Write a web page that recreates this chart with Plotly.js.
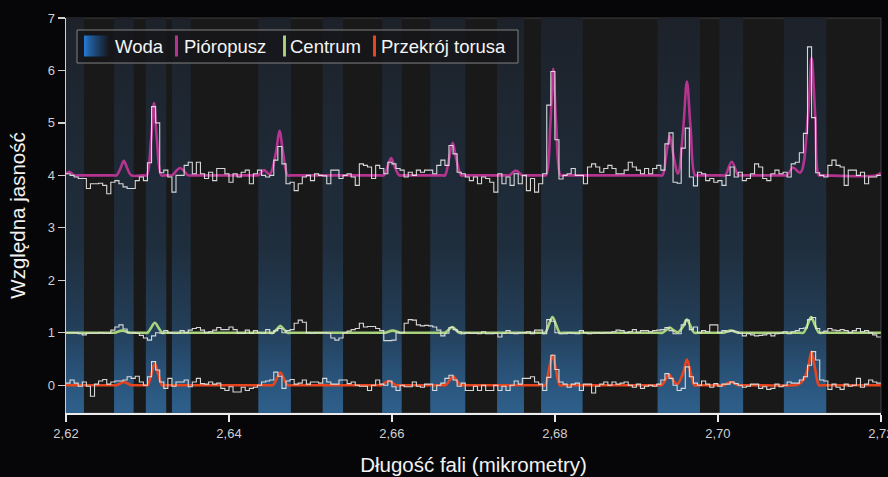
<!DOCTYPE html>
<html>
<head>
<meta charset="utf-8">
<script src="https://cdn.plot.ly/plotly-3.0.1.min.js"></script>
<style>
html,body{margin:0;padding:0;background:#060608;}
#chart{width:888px;height:477px;}
</style>
</head>
<body>
<div id="chart"></div>
<script>
// Wavelength grid (bin edges, micrometres)
const waveGrid = [
2.6200,2.6205,2.6210,2.6215,2.6220,2.6225,2.6230,2.6235,2.6240,2.6245,
2.6250,2.6255,2.6260,2.6265,2.6270,2.6275,2.6280,2.6285,2.6290,2.6295,
2.6300,2.6305,2.6310,2.6315,2.6320,2.6325,2.6330,2.6335,2.6340,2.6345,
2.6350,2.6355,2.6360,2.6365,2.6370,2.6375,2.6380,2.6385,2.6390,2.6395,
2.6400,2.6405,2.6410,2.6415,2.6420,2.6425,2.6430,2.6435,2.6440,2.6445,
2.6450,2.6455,2.6460,2.6465,2.6470,2.6475,2.6480,2.6485,2.6490,2.6495,
2.6500,2.6505,2.6510,2.6515,2.6520,2.6525,2.6530,2.6535,2.6540,2.6545,
2.6550,2.6555,2.6560,2.6565,2.6570,2.6575,2.6580,2.6585,2.6590,2.6595,
2.6600,2.6605,2.6610,2.6615,2.6620,2.6625,2.6630,2.6635,2.6640,2.6645,
2.6650,2.6655,2.6660,2.6665,2.6670,2.6675,2.6680,2.6685,2.6690,2.6695,
2.6700,2.6705,2.6710,2.6715,2.6720,2.6725,2.6730,2.6735,2.6740,2.6745,
2.6750,2.6755,2.6760,2.6765,2.6770,2.6775,2.6780,2.6785,2.6790,2.6795,
2.6800,2.6805,2.6810,2.6815,2.6820,2.6825,2.6830,2.6835,2.6840,2.6845,
2.6850,2.6855,2.6860,2.6865,2.6870,2.6875,2.6880,2.6885,2.6890,2.6895,
2.6900,2.6905,2.6910,2.6915,2.6920,2.6925,2.6930,2.6935,2.6940,2.6945,
2.6950,2.6955,2.6960,2.6965,2.6970,2.6975,2.6980,2.6985,2.6990,2.6995,
2.7000,2.7005,2.7010,2.7015,2.7020,2.7025,2.7030,2.7035,2.7040,2.7045,
2.7050,2.7055,2.7060,2.7065,2.7070,2.7075,2.7080,2.7085,2.7090,2.7095,
2.7100,2.7105,2.7110,2.7115,2.7120,2.7125,2.7130,2.7135,2.7140,2.7145,
2.7150,2.7155,2.7160,2.7165,2.7170,2.7175,2.7180,2.7185,2.7190,2.7195,
2.7200];

// Observed spectra (step data)
const plumeData = [
4.03,4.00,3.97,3.94,3.94,3.75,3.84,3.84,3.85,3.81,
3.65,3.87,3.90,3.84,3.78,3.75,3.75,3.90,3.97,3.90,
4.24,5.31,5.00,4.05,4.10,3.97,3.68,4.00,4.00,4.19,
4.25,4.03,4.25,4.03,3.94,4.06,3.90,4.13,4.13,4.03,
3.87,4.03,3.97,4.06,4.10,3.84,4.03,4.10,4.00,3.97,
4.00,4.29,4.55,4.22,3.84,3.87,3.71,3.84,3.97,4.00,
3.90,4.03,4.00,3.99,3.84,4.10,4.10,3.94,4.00,4.03,
3.97,3.81,4.22,4.19,4.16,3.94,4.19,4.13,4.03,4.25,
4.22,4.13,4.10,3.97,4.06,4.00,4.10,4.06,4.10,4.10,
4.03,4.19,4.29,4.19,4.57,4.41,4.06,4.03,3.97,3.90,
3.97,3.84,3.97,3.94,3.87,3.68,4.03,3.84,3.97,3.81,
4.03,3.84,4.00,3.71,3.94,3.68,3.84,4.03,5.34,5.98,
4.68,3.93,4.00,4.03,4.13,4.00,4.00,3.84,4.16,4.22,
4.16,4.06,4.13,4.19,4.13,4.03,4.03,4.10,4.25,4.16,
4.10,4.03,4.13,4.03,4.13,4.19,4.10,4.60,4.81,3.87,
3.85,4.52,4.90,3.97,3.80,4.06,4.03,3.90,3.94,3.87,
3.90,3.81,4.00,4.16,3.97,4.06,3.90,3.94,4.03,4.22,
4.16,3.94,3.90,4.03,4.10,4.03,4.06,3.97,4.22,4.25,
4.43,4.80,6.45,5.10,4.05,4.00,3.97,4.19,4.29,4.19,
4.16,3.81,4.10,4.10,4.00,4.06,3.84,3.97,3.97,4.00,
4.00];

const centreData = [
1.00,1.00,1.00,0.98,0.96,0.99,0.99,0.99,1.00,0.99,
0.99,1.05,1.11,1.15,1.07,1.00,1.00,0.99,0.95,0.90,
0.86,0.94,1.00,0.99,1.04,1.00,0.99,0.99,1.04,1.00,
1.05,1.08,1.10,1.05,1.00,1.02,1.05,1.10,1.06,1.06,
1.11,1.06,0.99,0.99,1.05,0.99,1.04,1.00,0.99,1.06,
0.99,1.04,1.08,1.00,1.04,1.06,1.18,1.24,1.20,1.00,
0.99,1.00,1.00,1.00,0.99,0.90,0.86,0.90,1.00,1.03,
1.06,1.08,1.18,1.11,1.12,1.12,1.08,1.04,0.85,0.85,
0.86,1.00,1.00,1.18,1.25,1.24,1.15,1.13,1.14,1.13,
1.11,1.05,0.94,0.99,1.10,1.06,1.02,0.98,1.00,0.99,
0.99,0.98,1.02,0.98,0.98,0.99,0.92,0.99,1.04,0.99,
0.98,1.00,1.00,1.02,0.98,1.05,1.05,0.98,1.25,1.22,
1.00,0.98,0.98,1.00,0.99,0.98,1.04,1.00,0.98,0.99,
1.00,0.99,1.00,1.00,1.02,1.05,1.04,1.00,1.02,1.06,
1.01,1.04,1.04,1.02,1.04,1.05,1.06,1.10,1.04,0.98,
0.98,1.15,1.24,1.06,1.11,1.00,1.04,1.02,1.15,1.15,
1.00,1.04,1.02,1.04,1.02,0.99,0.94,0.98,0.96,0.94,
0.95,0.96,0.98,0.94,0.98,0.99,1.02,0.98,1.02,1.04,
1.08,1.09,1.25,1.29,1.08,1.00,1.03,1.08,1.05,1.04,
1.06,1.04,1.00,1.04,1.08,1.02,1.04,1.00,0.96,0.92,
0.92];

const torusData = [
0.04,0.10,0.04,-0.02,0.06,-0.02,-0.21,0.02,0.08,0.11,
0.02,0.06,0.08,0.08,0.10,0.16,0.13,0.17,0.06,0.00,
0.16,0.45,0.29,0.06,-0.06,0.13,-0.02,0.06,0.06,0.10,
-0.03,0.06,0.13,0.03,0.02,0.06,0.02,0.04,-0.06,-0.10,
-0.03,-0.13,-0.13,-0.04,-0.10,-0.06,-0.04,0.00,0.06,0.08,
0.10,0.25,0.17,-0.06,0.08,0.11,0.02,0.04,0.10,0.02,
0.06,0.06,0.04,0.13,0.06,0.02,0.02,0.10,0.10,0.03,
0.06,0.00,-0.02,-0.02,-0.10,0.00,0.10,0.02,0.00,0.08,
-0.03,-0.10,0.00,-0.03,-0.03,0.06,-0.02,-0.04,0.02,0.02,
-0.10,0.00,0.04,0.13,0.19,0.10,-0.02,0.04,-0.10,-0.10,
-0.02,-0.10,0.00,-0.10,-0.10,0.00,-0.10,-0.02,-0.10,0.00,
0.08,0.02,0.13,0.13,0.16,0.06,0.02,-0.10,0.15,0.57,
0.30,0.06,0.02,-0.04,0.02,0.04,-0.10,0.02,0.02,-0.15,
-0.02,0.02,0.06,0.00,0.06,0.02,0.04,0.06,0.00,-0.04,
0.02,-0.06,-0.02,0.00,-0.02,0.02,0.10,0.22,0.13,0.00,
-0.10,-0.06,0.35,0.16,0.04,0.00,0.08,0.02,-0.04,0.03,
-0.02,0.02,0.02,0.06,0.03,0.00,-0.04,-0.02,0.02,0.02,
-0.06,-0.03,-0.08,-0.06,0.02,-0.03,0.00,0.06,0.04,0.04,
0.10,0.16,0.38,0.64,0.48,0.10,0.08,-0.08,0.02,-0.04,
-0.08,0.02,-0.02,0.00,0.13,-0.04,0.02,0.10,0.06,0.04,
0.04];

// Model curves
const plumeModelX = [2.6200,2.6204,2.6210,2.6214,
  2.6258,2.6262,2.6267,2.6271,2.6275,2.6280,
  2.6295,2.6299,2.63045,2.6308,2.63115,2.6317,2.6321,
  2.6326,2.6330,2.6340,2.6350,2.6354,
  2.6432,2.6436,2.6443,2.6450,2.64575,2.6462,2.64665,2.6472,2.6476,
  2.6586,2.6590,2.65945,2.6599,2.66035,2.6609,2.6613,
  2.6661,2.6665,2.6670,2.66745,2.6679,2.6685,2.6689,
  2.6740,2.6744,2.6752,2.6760,2.6764,
  2.6785,2.6789,2.67945,2.6798,2.68015,2.6807,2.6811,
  2.6928,2.6932,2.69365,2.6941,2.69455,2.6951,2.69575,2.6962,2.69665,2.6972,2.6976,
  2.7005,2.7009,2.7017,2.7025,2.7029,
  2.7081,2.7085,2.7092,2.7101,2.71105,2.7115,2.71195,2.7124,2.7128,
  2.7195,2.7200];
const plumeModelY = [4.02,4.07,4.00,4.00,
  4.00,4.00,4.14,4.28,4.14,4.00,
  4.00,4.00,4.69,5.38,4.69,4.00,4.00,
  4.00,4.00,4.14,4.00,4.00,
  4.00,4.00,4.10,4.02,4.42,4.85,4.42,4.00,4.00,
  4.00,4.00,4.16,4.33,4.16,4.00,4.00,
  4.00,4.00,4.31,4.62,4.31,4.00,4.00,
  4.00,4.00,4.09,4.00,4.00,
  4.00,4.00,5.00,6.03,5.00,4.00,4.00,
  4.00,4.00,4.38,4.76,4.38,4.03,4.90,5.79,4.90,4.00,4.00,
  4.00,4.00,4.26,4.00,4.00,
  4.00,4.00,4.15,4.05,5.12,6.24,5.12,4.00,4.00,
  4.00,4.05];

const centreModelX = [2.6200,2.6256,2.6260,2.6269,2.6278,2.6282,
  2.6296,2.6300,2.63045,2.6309,2.63135,2.6318,2.6322,
  2.6450,2.6454,2.64585,2.6463,2.64675,2.6472,2.6476,
  2.6588,2.6592,2.6601,2.6610,2.6614,
  2.6661,2.6665,2.66695,2.6674,2.66785,2.6683,2.6687,
  2.6784,2.6788,2.67925,2.6797,2.68015,2.6806,2.6810,
  2.6928,2.6932,2.69365,2.6941,2.69455,2.6951,2.69575,2.6962,2.69665,2.6971,2.6975,
  2.7003,2.7007,2.7016,2.7025,2.7029,
  2.7101,2.7105,2.7110,2.71145,2.7119,2.7124,2.7128,
  2.7200];
const centreModelY = [1.00,1.00,1.00,1.04,1.00,1.00,
  1.00,1.00,1.095,1.19,1.095,1.00,1.00,
  1.00,1.00,1.065,1.13,1.065,1.00,1.00,
  1.00,1.00,1.04,1.00,1.00,
  1.00,1.00,1.055,1.11,1.055,1.00,1.00,
  1.00,1.00,1.15,1.30,1.15,1.00,1.00,
  1.00,1.00,1.05,1.10,1.05,1.01,1.125,1.25,1.125,1.00,1.00,
  1.00,1.00,1.04,1.00,1.00,
  1.00,1.00,1.15,1.30,1.15,1.00,1.00,
  1.00];

const torusModelX = [2.6200,2.6258,2.6262,2.6271,2.6280,2.6284,
  2.6296,2.6300,2.63045,2.6309,2.63135,2.6318,2.6322,
  2.6450,2.6454,2.64585,2.6463,2.64675,2.6472,2.6476,
  2.6583,2.6587,2.6596,2.6605,2.6609,
  2.6662,2.6666,2.66705,2.6675,2.66795,2.6684,2.6688,
  2.6784,2.6788,2.67925,2.6797,2.68015,2.6806,2.6810,
  2.6927,2.6931,2.69355,2.6940,2.69445,2.6950,2.69575,2.6962,2.69665,2.6971,2.6975,
  2.7003,2.7007,2.7016,2.7025,2.7029,
  2.7094,2.7098,2.7105,2.71105,2.7115,2.71195,2.7124,2.7128,
  2.7200];
const torusModelY = [0.00,0.00,0.00,0.06,0.00,0.00,
  0.00,0.00,0.20,0.41,0.20,0.00,0.00,
  0.00,0.00,0.12,0.24,0.12,0.00,0.00,
  0.00,0.00,0.08,0.00,0.00,
  0.00,0.00,0.085,0.17,0.085,0.00,0.00,
  0.00,0.00,0.28,0.57,0.28,0.00,0.00,
  0.00,0.00,0.10,0.21,0.10,0.02,0.24,0.49,0.24,0.00,0.00,
  0.00,0.00,0.06,0.00,0.00,
  0.00,0.01,0.10,0.32,0.64,0.30,0.00,0.00,
  0.00];

// Water absorption bands
const waterStart = [2.6200,2.6259,2.6298,2.6330,2.6436,2.6515,2.6588,2.6647,2.6729,2.6783,2.6926,2.7002,2.7081];
const waterEnd   = [2.6222,2.6283,2.6323,2.6353,2.6476,2.6540,2.6612,2.6690,2.6762,2.6834,2.6978,2.7031,2.7133];

const xTickVals = [2.62,2.64,2.66,2.68,2.70,2.72];
const xTickText = ['2,62','2,64','2,66','2,68','2,70','2,72'];
const yTickVals = [0,1,2,3,4,5,6,7];

const legendNames = ['Woda','Pióropusz','Centrum','Przekrój torusa'];

const Y_MIN = -0.53, Y_MAX = 7.0;
const FONT = 'Liberation Sans, Arial, sans-serif';
const C_PLUME = '#b5348f', C_CENTRE = '#a9d27c', C_TORUS = '#e8451f';

const traces = [];
// water bands with vertical gradient
for (let i = 0; i < waterStart.length; i++) {
  traces.push({
    type: 'scatter', mode: 'lines',
    x: [waterStart[i], waterEnd[i], waterEnd[i], waterStart[i], waterStart[i]],
    y: [Y_MIN, Y_MIN, Y_MAX, Y_MAX, Y_MIN],
    fill: 'toself', line: {width: 0},
    fillgradient: {type: 'vertical', start: Y_MIN, stop: Y_MAX,
      colorscale: [[0,'rgb(46,96,140)'],[0.1,'rgb(41,82,120)'],[0.22,'rgb(35,62,88)'],
                   [0.42,'rgb(31,46,61)'],[1,'rgb(29,34,42)']]},
    hoverinfo: 'skip', showlegend: false
  });
}
function modelTrace(x, y, c) {
  return {type:'scatter', mode:'lines', x:x, y:y,
    line:{color:c, width:2.6, shape:'spline', smoothing:1}, hoverinfo:'skip', showlegend:false};
}
function dataTrace(y) {
  return {type:'scatter', mode:'lines', x:waveGrid, y:y,
    line:{color:'rgba(230,230,230,0.92)', width:1.1, shape:'hv'}, hoverinfo:'skip', showlegend:false};
}
traces.push(modelTrace(plumeModelX, plumeModelY, C_PLUME));
traces.push(modelTrace(centreModelX, centreModelY, C_CENTRE));
traces.push(modelTrace(torusModelX, torusModelY, C_TORUS));
traces.push(dataTrace(plumeData));
traces.push(dataTrace(centreData));
traces.push(dataTrace(torusData));

// Legend geometry (paper coordinates)
const legY = 0.929;
const shapes = [
  {type:'rect', xref:'paper', yref:'paper', x0:0, x1:1, y0:0, y1:1,
   line:{color:'rgba(120,120,120,0.45)', width:1}, layer:'below'},
  {type:'rect', xref:'paper', yref:'paper', x0:0.0135, x1:0.5546, y0:0.886, y1:0.9696,
   fillcolor:'rgba(22,22,26,0.82)', line:{color:'rgba(140,140,140,0.9)', width:1}},
  {type:'rect', xref:'paper', yref:'paper', x0:0.1337, x1:0.1374, y0:0.9025, y1:0.9557,
   fillcolor:C_PLUME, line:{width:0}},
  {type:'rect', xref:'paper', yref:'paper', x0:0.2663, x1:0.2699, y0:0.9025, y1:0.9557,
   fillcolor:C_CENTRE, line:{width:0}},
  {type:'rect', xref:'paper', yref:'paper', x0:0.3767, x1:0.3804, y0:0.9025, y1:0.9557,
   fillcolor:C_TORUS, line:{width:0}}
];
// Woda swatch: horizontal blue-to-dark gradient built from thin strips
const swL = 0.0221, swW = 0.0294, nStrip = 12;
const cA = [34,122,208], cB = [22,30,46];
for (let k = 0; k < nStrip; k++) {
  const t = k / (nStrip - 1);
  const c = cA.map((v, j) => Math.round(v + (cB[j] - v) * Math.pow(t, 0.8)));
  shapes.push({type:'rect', xref:'paper', yref:'paper',
    x0: swL + swW * k / nStrip, x1: swL + swW * (k + 1) / nStrip + 0.0003,
    y0: 0.9025, y1: 0.9557, fillcolor: 'rgb(' + c.join(',') + ')', line:{width:0}});
}

const layout = {
  width: 888, height: 477,
  margin: {l: 66, r: 7, t: 18, b: 64},
  paper_bgcolor: '#060608',
  plot_bgcolor: '#1a1919',
  showlegend: false,
  xaxis: {
    range: [2.62, 2.72002], tickvals: xTickVals, ticktext: xTickText,
    ticklabeloverflow: 'allow',
    ticks: 'outside', ticklen: 7, tickwidth: 1.5, tickcolor: '#e6e6e6',
    showline: true, linecolor: '#ececec', linewidth: 2,
    showgrid: false, zeroline: false,
    tickfont: {family: FONT, size: 13, color: '#cfcfcf'},
    title: {text: 'Długość fali (mikrometry)', font: {family: FONT, size: 20.5, color: '#f2f2f2'}, standoff: 18}
  },
  yaxis: {
    range: [Y_MIN, Y_MAX], tickvals: yTickVals,
    ticks: 'outside', ticklen: 7, tickwidth: 1.2, tickcolor: '#cfcfcf',
    showline: true, linecolor: '#d0d0d0', linewidth: 1.5,
    showgrid: false, zeroline: false,
    tickfont: {family: FONT, size: 13, color: '#cfcfcf'},
    title: {text: 'Względna jasność', font: {family: FONT, size: 20.5, color: '#f2f2f2'}, standoff: 16}
  },
  shapes: shapes,
  annotations: [
    {text: legendNames[0], x: 0.0577, y: legY},
    {text: legendNames[1], x: 0.1423, y: legY},
    {text: legendNames[2], x: 0.2724, y: legY},
    {text: legendNames[3], x: 0.3840, y: legY}
  ].map(a => Object.assign(a, {xref:'paper', yref:'paper', xanchor:'left', yanchor:'middle',
     showarrow:false, font:{family: FONT, size: 18.5, color:'#f4f4f4'}}))
};

Plotly.newPlot('chart', traces, layout, {displayModeBar: false, staticPlot: true});
</script>
</body>
</html>
